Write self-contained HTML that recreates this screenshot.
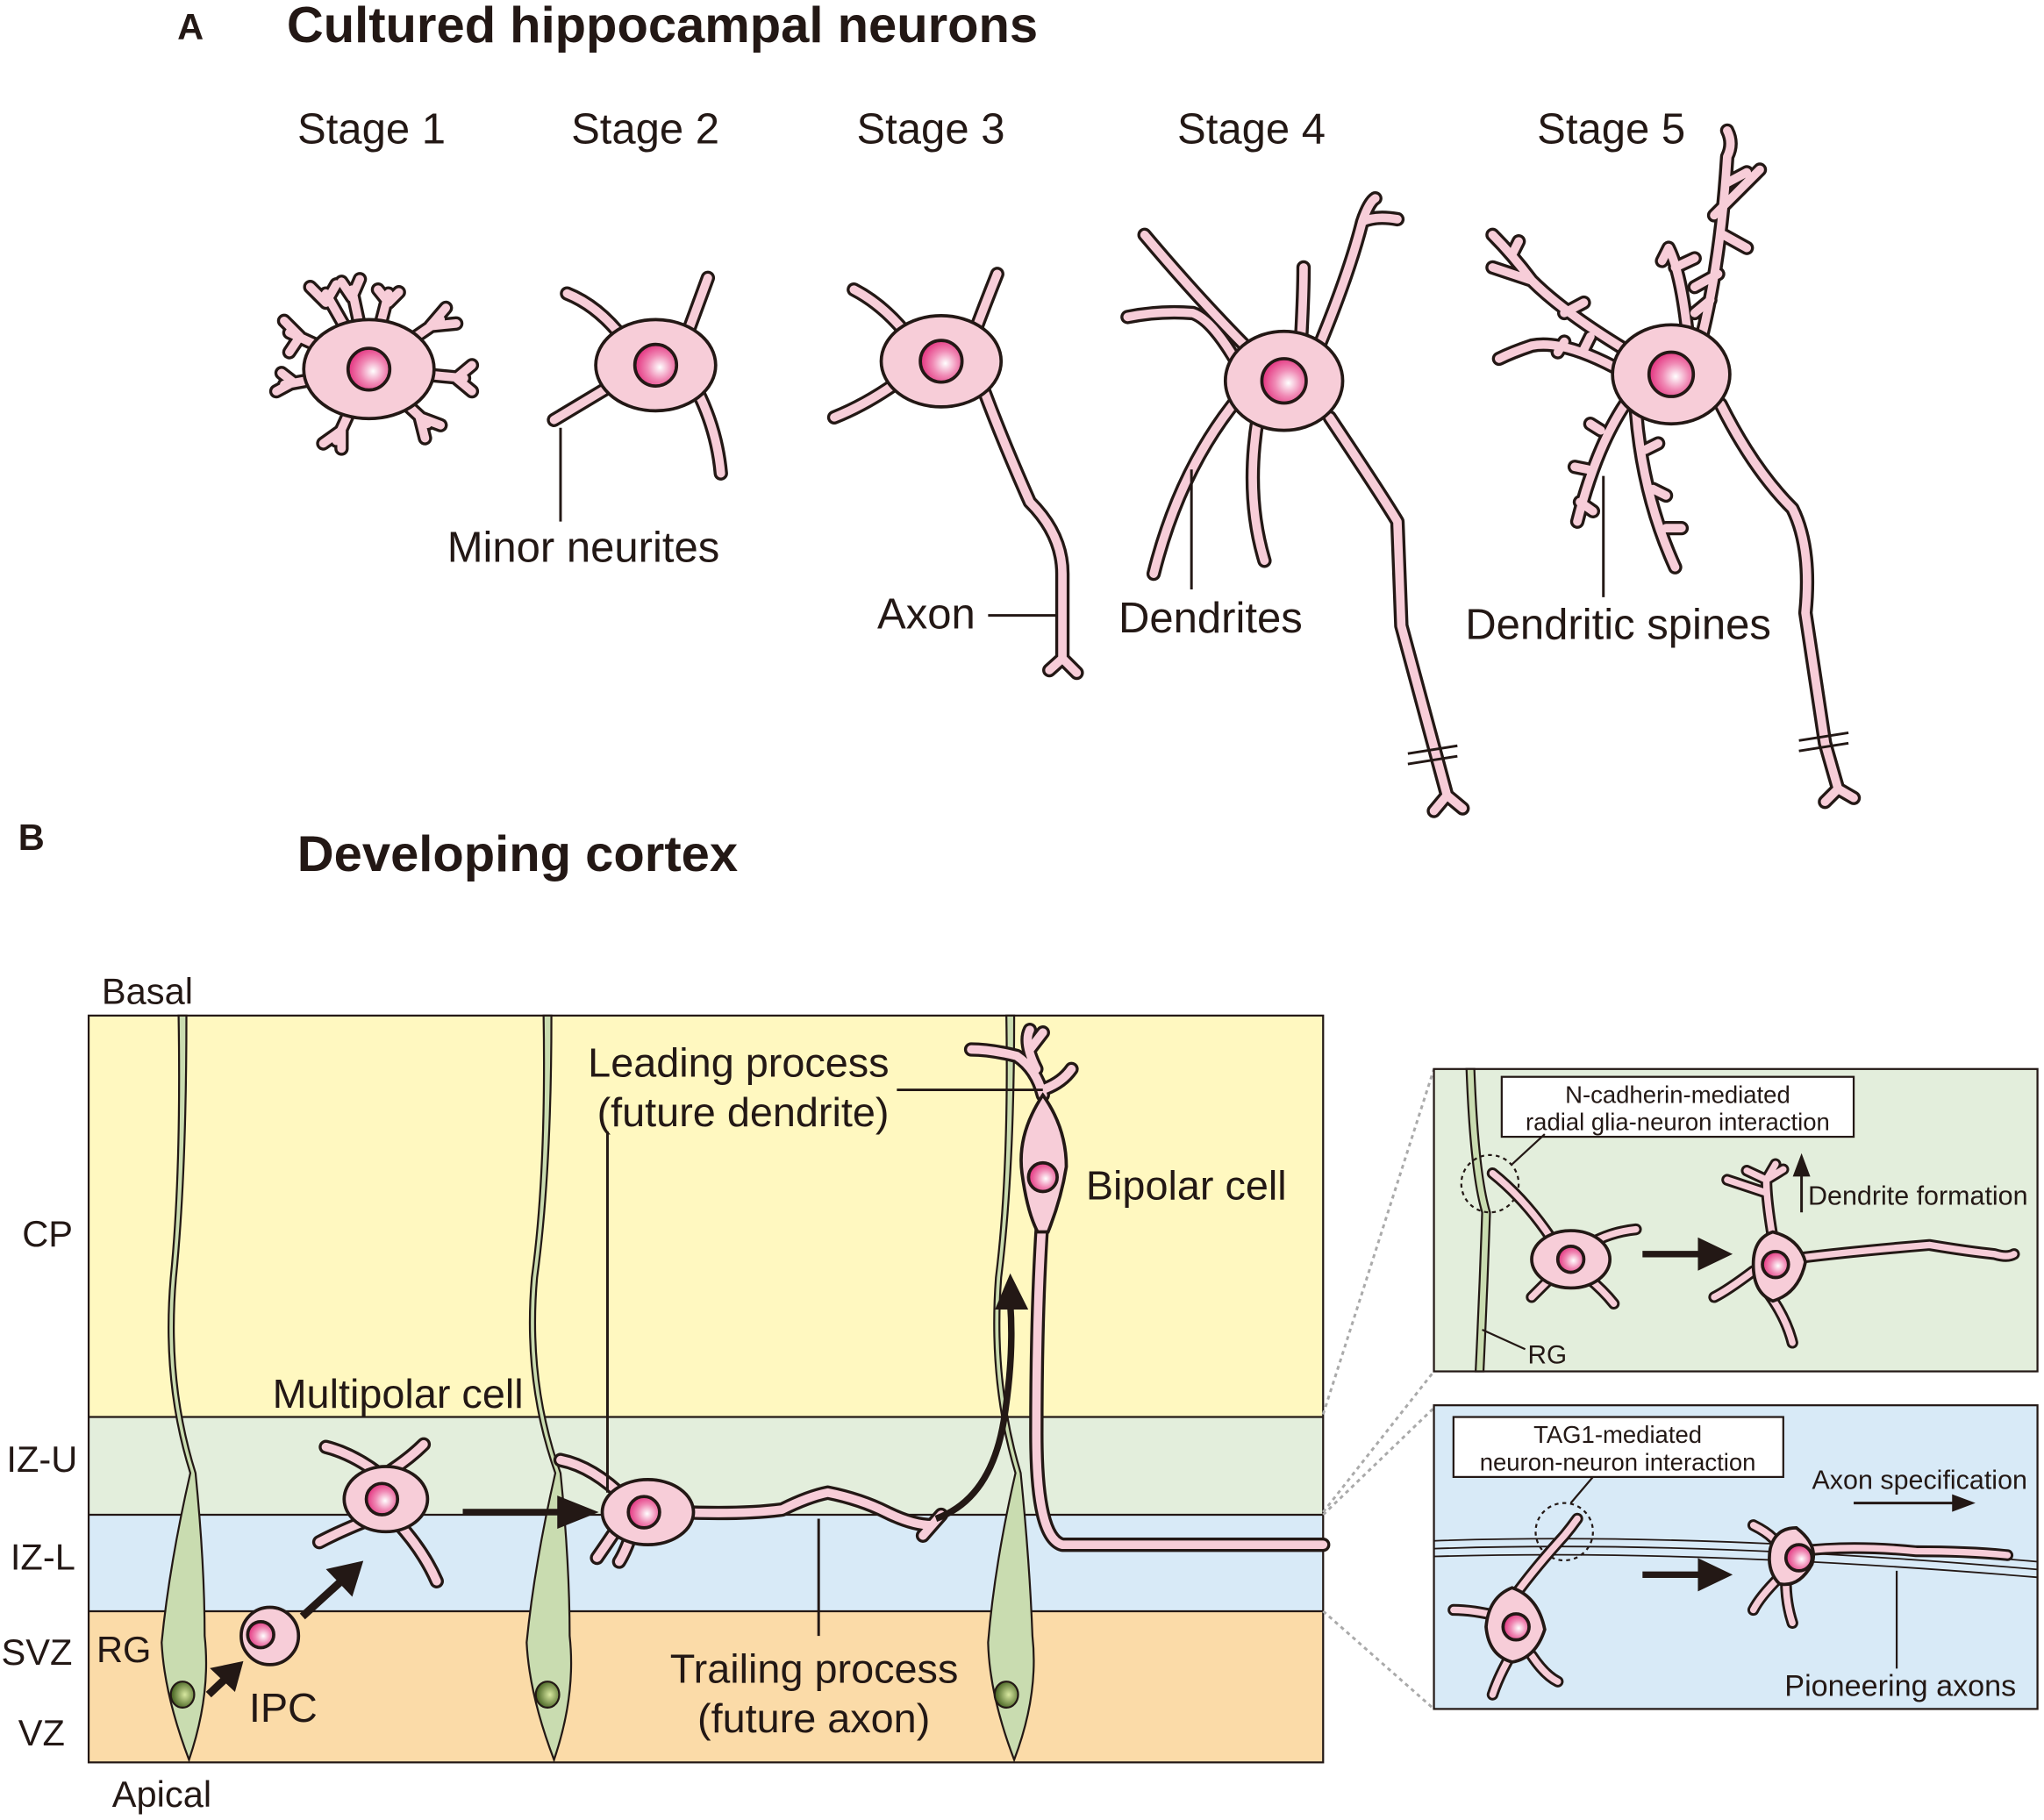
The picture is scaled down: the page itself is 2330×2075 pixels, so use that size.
<!DOCTYPE html>
<html><head><meta charset="utf-8"><style>
html,body{margin:0;padding:0;background:#fff;}
svg{display:block;}
text{font-family:"Liberation Sans",sans-serif;fill:#231815;}
</style></head><body>
<svg width="2330" height="2075" viewBox="0 0 1568 1396" xmlns="http://www.w3.org/2000/svg">
<defs>
<radialGradient id="nuc" cx="0.6" cy="0.55" r="0.6">
<stop offset="0" stop-color="#ffffff"/><stop offset="0.5" stop-color="#f08ab5"/><stop offset="1" stop-color="#e3307e"/>
</radialGradient>
<radialGradient id="gnuc" cx="0.6" cy="0.5" r="0.6">
<stop offset="0" stop-color="#d8e8a0"/><stop offset="1" stop-color="#3d5a1a"/>
</radialGradient>
<g id="s1" fill="none" stroke-linecap="round" stroke-linejoin="round">
<path d="M283 283 L250 225 M250 232 L238 220 M250 232 L258 218"/>
<path d="M283 283 L298 225 M298 232 L290 222 M298 232 L306 224"/>
<path d="M283 283 L338 245 M330 250 L342 236 M330 250 L350 248"/>
<path d="M283 283 L222 255 M230 258 L218 246 M230 258 L222 270"/>
<path d="M283 283 L218 295 M225 293 L212 300 M225 293 L216 286"/>
<path d="M283 283 L258 338 M262 330 L248 340 M262 330 L262 344"/>
<path d="M283 283 L328 325 M322 320 L326 336 M322 320 L338 326"/>
<path d="M283 283 L356 290 M350 290 L362 280 M350 290 L362 300"/>
<path d="M283 283 L270 222 M270 228 L262 216 M270 228 L276 214"/>
</g>
<g id="s2" fill="none" stroke-linecap="round" stroke-linejoin="round">
<path d="M480 262 Q460 235 435 225"/><path d="M525 262 Q535 235 543 213"/>
<path d="M470 295 Q445 310 425 322"/><path d="M535 300 Q550 330 553 363"/>
</g>
<g id="s3" fill="none" stroke-linecap="round" stroke-linejoin="round">
<path d="M700 262 Q680 235 655 222"/><path d="M745 262 Q755 235 765 210"/>
<path d="M690 292 Q665 310 640 320"/>
<path d="M755 300 Q770 340 790 385 Q815 410 815 440 L815 505 M815 505 L805 514 M815 505 L826 516"/>
</g>
<g id="s4" fill="none" stroke-linecap="round" stroke-linejoin="round">
<path d="M1010 270 Q1035 210 1045 170 Q1050 155 1055 152 M1045 170 Q1055 165 1072 168"/>
<path d="M960 270 Q920 230 878 180"/>
<path d="M950 280 Q930 245 915 240 Q890 238 865 243"/>
<path d="M998 262 Q1000 225 1000 205"/>
<path d="M950 305 Q905 360 885 440"/>
<path d="M965 320 Q955 380 970 430"/>
<path d="M1020 320 Q1060 380 1072 400 L1075 480 L1110 610 M1110 610 L1100 622 M1110 610 L1122 620"/>
</g>
<g id="s5" fill="none" stroke-linecap="round" stroke-linejoin="round">
<path d="M1305 260 Q1320 200 1325 120 Q1330 110 1325 100 M1325 140 L1340 132 M1322 180 L1340 190 M1318 210 L1300 220 M1312 230 L1300 240 M1315 165 L1350 130"/>
<path d="M1295 260 Q1290 210 1280 190 L1275 200 M1285 205 L1300 198"/>
<path d="M1250 270 Q1200 240 1175 215 Q1160 195 1145 180 M1175 215 L1145 205 M1200 240 L1215 232 M1160 195 L1165 185"/>
<path d="M1245 285 Q1200 260 1175 265 Q1160 270 1150 275 M1200 262 L1195 270 M1215 268 L1220 258"/>
<path d="M1250 305 Q1225 340 1210 400 M1228 330 L1220 325 M1218 360 L1208 358 M1212 385 L1222 392"/>
<path d="M1255 315 Q1260 380 1285 435 M1262 345 L1272 340 M1268 375 L1278 380 M1278 405 L1290 405"/>
<path d="M1320 310 Q1345 360 1375 390 Q1390 420 1385 470 L1400 570 L1410 605 M1410 605 L1400 615 M1410 605 L1422 612"/>
</g>
<g id="bn" fill="none" stroke-linecap="round" stroke-linejoin="round">
<path d="M290 1130 Q270 1115 250 1110"/><path d="M300 1128 Q315 1118 325 1108"/>
<path d="M285 1165 Q260 1175 245 1183"/><path d="M305 1168 Q325 1190 335 1213"/>
<path d="M480 1150 Q455 1125 430 1120"/><path d="M475 1170 Q465 1185 458 1195"/><path d="M485 1175 Q480 1190 475 1198"/>
<path d="M520 1160 Q570 1162 600 1158 Q620 1148 635 1145 Q660 1150 680 1160 Q700 1170 715 1170 M715 1170 L708 1178 M715 1170 L722 1162"/>
<path d="M800 840 Q795 820 780 810 Q760 805 745 805 M795 820 Q785 800 790 790 M802 835 Q815 830 822 820 M790 805 L800 792"/>
<path d="M800 930 Q795 1000 795 1100 Q795 1180 815 1185 L1015 1185"/>
</g>
<g id="i1" fill="none" stroke-linecap="round" stroke-linejoin="round">
<path d="M1190 950 Q1170 920 1145 900"/><path d="M1218 955 Q1235 945 1255 943"/>
<path d="M1190 980 Q1180 990 1175 995"/><path d="M1218 980 Q1230 990 1238 1000"/>
<path d="M1360 950 Q1355 920 1355 905 M1355 905 L1340 898 M1355 915 L1325 905 M1355 905 L1362 893 M1355 905 L1368 897"/>
<path d="M1345 975 Q1325 990 1315 995"/><path d="M1355 990 Q1370 1010 1375 1030"/>
<path d="M1380 965 Q1420 960 1480 955 Q1510 960 1530 962 Q1540 965 1545 962"/>
</g>
<g id="i2" fill="none" stroke-linecap="round" stroke-linejoin="round">
<path d="M1165 1220 Q1180 1200 1200 1178 Q1205 1172 1210 1165"/>
<path d="M1150 1240 Q1130 1235 1115 1235"/><path d="M1160 1268 Q1150 1285 1145 1300"/><path d="M1175 1270 Q1185 1285 1195 1290"/>
<path d="M1380 1190 Q1420 1185 1470 1190 Q1510 1190 1540 1193"/>
<path d="M1360 1180 Q1355 1175 1345 1170"/>
<path d="M1370 1212 Q1370 1230 1375 1245"/><path d="M1365 1210 Q1350 1225 1345 1235"/>
</g>
</defs>

<!-- Panel A -->
<text x="136" y="30" font-size="28" font-weight="bold">A</text>
<text x="220" y="32" font-size="39" font-weight="bold">Cultured hippocampal neurons</text>
<g font-size="33" text-anchor="middle">
<text x="285" y="110">Stage 1</text><text x="495" y="110">Stage 2</text><text x="714" y="110">Stage 3</text><text x="960" y="110">Stage 4</text><text x="1236" y="110">Stage 5</text>
</g>

<g stroke="#231815" stroke-width="2.5">
<use href="#s1" stroke-width="11"/><use href="#s1" stroke="#f7cdd8" stroke-width="6.5"/>
<ellipse cx="283" cy="283" rx="50" ry="38" fill="#f7cdd8"/>
<use href="#s2" stroke-width="11"/><use href="#s2" stroke="#f7cdd8" stroke-width="6.5"/>
<ellipse cx="503" cy="280" rx="46" ry="35" fill="#f7cdd8"/>
<use href="#s3" stroke-width="11"/><use href="#s3" stroke="#f7cdd8" stroke-width="6.5"/>
<ellipse cx="722" cy="277" rx="46" ry="35" fill="#f7cdd8"/>
<use href="#s4" stroke-width="11"/><use href="#s4" stroke="#f7cdd8" stroke-width="6.5"/>
<ellipse cx="985" cy="292" rx="45" ry="38" fill="#f7cdd8"/>
<use href="#s5" stroke-width="11"/><use href="#s5" stroke="#f7cdd8" stroke-width="6.5"/>
<ellipse cx="1282" cy="287" rx="45" ry="38" fill="#f7cdd8"/>
<circle cx="283" cy="283" r="16" fill="url(#nuc)"/>
<circle cx="503" cy="280" r="16" fill="url(#nuc)"/>
<circle cx="722" cy="277" r="16" fill="url(#nuc)"/>
<circle cx="985" cy="292" r="17" fill="url(#nuc)"/>
<circle cx="1282" cy="287" r="17" fill="url(#nuc)"/>
<path d="M1080 578 L1118 572 M1080 586 L1118 580 M1380 568 L1418 562 M1380 576 L1418 570" stroke-width="2"/>
</g>
<g stroke="#231815" stroke-width="2" fill="none">
<path d="M430 328 L430 400"/><path d="M758 472 L810 472"/><path d="M914 360 L914 452"/><path d="M1230 365 L1230 458"/>
</g>
<g font-size="33">
<text x="343" y="431">Minor neurites</text>
<text x="673" y="482">Axon</text>
<text x="858" y="485">Dendrites</text>
<text x="1124" y="490">Dendritic spines</text>
</g>

<!-- Panel B -->
<text x="14" y="652" font-size="28" font-weight="bold">B</text>
<text x="228" y="668" font-size="39" font-weight="bold">Developing cortex</text>
<text x="78" y="770" font-size="28">Basal</text>
<text x="86" y="1386" font-size="28">Apical</text>

<rect x="68" y="779" width="947" height="308" fill="#fff8c0"/>
<rect x="68" y="1087" width="947" height="75" fill="#e3eedc"/>
<rect x="68" y="1162" width="947" height="74" fill="#d8eaf7"/>
<rect x="68" y="1236" width="947" height="116" fill="#fbdba8"/>
<g stroke="#231815" stroke-width="1.5" fill="none">
<rect x="68" y="779" width="947" height="573"/>
<path d="M68 1087 H1015 M68 1162 H1015 M68 1236 H1015"/>
</g>
<g font-size="28">
<text x="17" y="956">CP</text><text x="5" y="1129">IZ-U</text><text x="8" y="1204">IZ-L</text>
<text x="1" y="1277">SVZ</text><text x="14" y="1339">VZ</text><text x="74" y="1275">RG</text>
</g>

<!-- RG fibers -->
<g stroke="#231815" stroke-width="1.5" fill="#c9dcb0">
<path d="M137 779 L143 779 Q143 900 135 980 Q128 1060 150 1130 Q157 1200 157 1255 Q162 1300 145 1350 Q126 1300 124 1260 Q130 1200 146 1130 Q124 1060 131 980 Q139 900 137 779 Z"/>
<path d="M417 779 L423 779 Q423 900 412 980 Q405 1060 430 1130 Q437 1200 437 1255 Q442 1300 425 1350 Q406 1300 404 1260 Q410 1200 426 1130 Q401 1060 408 980 Q419 900 417 779 Z"/>
<path d="M772 779 L778 779 Q778 900 768 980 Q762 1060 783 1130 Q790 1200 792 1255 Q797 1300 778 1350 Q759 1300 758 1260 Q763 1200 779 1130 Q758 1060 764 980 Q774 900 772 779 Z"/>
<ellipse cx="140" cy="1300" rx="9" ry="10" fill="url(#gnuc)"/>
<ellipse cx="420" cy="1300" rx="9" ry="10" fill="url(#gnuc)"/>
<ellipse cx="772" cy="1300" rx="9" ry="10" fill="url(#gnuc)"/>
</g>

<!-- B neurons -->
<g stroke="#231815" stroke-width="2.5">
<use href="#bn" stroke-width="11"/><use href="#bn" stroke="#f7cdd8" stroke-width="6.5"/>
<ellipse cx="296" cy="1150" rx="32" ry="25" fill="#f7cdd8"/>
<ellipse cx="497" cy="1160" rx="35" ry="25" fill="#f7cdd8"/>
<path d="M800 840 Q780 870 784 900 Q788 930 796 945 L804 945 Q814 920 818 895 Q818 865 800 840 Z" fill="#f7cdd8"/>
<circle cx="207" cy="1255" r="22" fill="#f7cdd8"/>
<circle cx="293" cy="1150" r="12" fill="url(#nuc)"/>
<circle cx="494" cy="1160" r="12" fill="url(#nuc)"/>
<circle cx="800" cy="903" r="11" fill="url(#nuc)"/>
<circle cx="200" cy="1254" r="10" fill="url(#nuc)"/>
</g>
<!-- arrows -->
<g stroke="#231815" fill="#231815">
<path d="M160 1300 L178 1283" stroke-width="6"/><path d="M186 1275 L162 1280 L180 1297 Z"/>
<path d="M232 1240 L265 1210" stroke-width="6"/><path d="M278 1198 L251 1204 L270 1224 Z"/>
<path d="M355 1160 L430 1160" stroke-width="5"/><path d="M458 1160 L428 1148 L428 1172 Z"/>
<path d="M718 1165 Q760 1150 770 1090 Q778 1040 775 1000" stroke-width="5" fill="none"/><path d="M775 978 L764 1004 L788 1004 Z"/>
</g>
<g stroke="#231815" stroke-width="2" fill="none">
<path d="M688 836 L800 836"/><path d="M466 868 L466 1145"/><path d="M628 1165 L628 1255"/>
</g>
<g font-size="31.5">
<text x="451" y="826">Leading process</text>
<text x="458" y="864">(future dendrite)</text>
<text x="833" y="920">Bipolar cell</text>
<text x="209" y="1080">Multipolar cell</text>
<text x="514" y="1291">Trailing process</text>
<text x="535" y="1329">(future axon)</text>
<text x="191" y="1321">IPC</text>
</g>

<!-- inset connectors -->
<g stroke="#aaa" stroke-width="2" stroke-dasharray="3,3" fill="none">
<path d="M1015 1085 L1100 820 M1015 1160 L1100 1052 M1015 1162 L1100 1080 M1015 1236 L1100 1311"/>
</g>

<!-- inset 1 -->
<rect x="1100" y="820" width="463" height="232" fill="#e3eedc" stroke="#231815" stroke-width="1.5"/>
<path d="M1125 820 Q1128 900 1137 930 Q1135 990 1132 1052 L1138 1052 Q1141 990 1143 930 Q1134 900 1131 820 Z" fill="#c9dcb0" stroke="#231815" stroke-width="1.5"/>
<rect x="1152" y="826" width="270" height="46" fill="#fff" stroke="#231815" stroke-width="1.5"/>
<text x="1287" y="846" font-size="18.5" text-anchor="middle">N-cadherin-mediated</text>
<text x="1287" y="867" font-size="18.5" text-anchor="middle">radial glia-neuron interaction</text>
<circle cx="1143" cy="908" r="22" fill="none" stroke="#231815" stroke-width="1.5" stroke-dasharray="3,3"/>
<path d="M1160 893 L1185 870" stroke="#231815" stroke-width="1.5"/>
<g stroke="#231815" stroke-width="2.5">
<use href="#i1" stroke-width="9"/><use href="#i1" stroke="#f7cdd8" stroke-width="5"/>
<ellipse cx="1205" cy="966" rx="30" ry="22" fill="#f7cdd8"/>
<path d="M1360 945 Q1380 950 1385 968 Q1380 992 1360 998 Q1345 992 1345 970 Q1345 950 1360 945 Z" fill="#f7cdd8"/>
<circle cx="1205" cy="966" r="10" fill="url(#nuc)"/>
<circle cx="1362" cy="970" r="10" fill="url(#nuc)"/>
</g>
<path d="M1137 1020 L1170 1035" stroke="#231815" stroke-width="1.5"/>
<text x="1172" y="1046" font-size="20">RG</text>
<g stroke="#231815" fill="#231815">
<path d="M1260 962 L1305 962" stroke-width="5"/><path d="M1328 962 L1303 950 L1303 974 Z"/>
<path d="M1382 930 L1382 900" stroke-width="2"/><path d="M1382 886 L1376 902 L1388 902 Z"/>
</g>
<text x="1387" y="924" font-size="20.5">Dendrite formation</text>

<!-- inset 2 -->
<rect x="1100" y="1078" width="463" height="233" fill="#d8eaf7" stroke="#231815" stroke-width="1.5"/>
<g stroke="#231815" stroke-width="1.2" fill="none">
<path d="M1100 1182 Q1300 1175 1563 1198"/><path d="M1100 1188 Q1300 1181 1563 1204"/><path d="M1100 1194 Q1300 1188 1563 1210"/>
</g>
<rect x="1115" y="1087" width="253" height="46" fill="#fff" stroke="#231815" stroke-width="1.5"/>
<text x="1241" y="1107" font-size="18.5" text-anchor="middle">TAG1-mediated</text>
<text x="1241" y="1128" font-size="18.5" text-anchor="middle">neuron-neuron interaction</text>
<circle cx="1200" cy="1175" r="22" fill="none" stroke="#231815" stroke-width="1.5" stroke-dasharray="3,3"/>
<path d="M1205 1153 L1222 1133" stroke="#231815" stroke-width="1.5"/>
<g stroke="#231815" stroke-width="2.5">
<use href="#i2" stroke-width="9"/><use href="#i2" stroke="#f7cdd8" stroke-width="5"/>
<path d="M1160 1218 Q1180 1225 1185 1250 Q1178 1272 1160 1275 Q1142 1270 1140 1248 Q1142 1225 1160 1218 Z" fill="#f7cdd8"/>
<path d="M1378 1172 Q1395 1185 1390 1200 Q1380 1218 1365 1215 Q1355 1205 1358 1188 Q1362 1172 1378 1172 Z" fill="#f7cdd8"/>
<circle cx="1163" cy="1248" r="10" fill="url(#nuc)"/>
<circle cx="1380" cy="1195" r="10" fill="url(#nuc)"/>
</g>
<g stroke="#231815" fill="#231815">
<path d="M1260 1208 L1305 1208" stroke-width="5"/><path d="M1328 1208 L1303 1196 L1303 1220 Z"/>
<path d="M1422 1153 L1500 1153" stroke-width="2"/><path d="M1514 1153 L1498 1147 L1498 1159 Z"/>
<path d="M1455 1205 L1455 1280" stroke-width="1.5"/>
</g>
<text x="1390" y="1142" font-size="20.5">Axon specification</text>
<text x="1369" y="1301" font-size="23">Pioneering axons</text>
</svg>
</body></html>
